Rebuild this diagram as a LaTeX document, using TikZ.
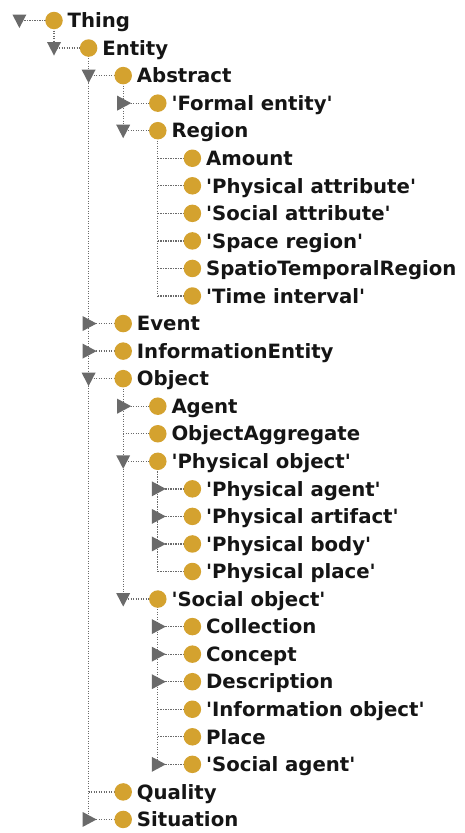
\documentclass[tikz,border=0pt]{standalone}
\usepackage{fontspec}
\setmainfont{DejaVu Sans}
\newcommand{\qq}[1]{\textquotesingle#1\textquotesingle}
\definecolor{gold}{HTML}{D4A22F}
\definecolor{trigray}{HTML}{6A6A6A}
\definecolor{dotgray}{HTML}{6A6A6A}
\definecolor{txt}{HTML}{151515}
\begin{document}
\begin{tikzpicture}[x=1pt,y=-1pt,
  dots/.style={draw=dotgray,line width=1.3pt,dash pattern=on 1.2pt off 1.3pt},
  ball/.style={circle,fill=gold,minimum size=17.5pt,inner sep=0pt},
  lbl/.style={anchor=base west,inner sep=0pt,text=txt,font=\fontsize{19.7}{19.7}\selectfont\bfseries},
  trifill/.style={fill=trigray}]
\useasboundingbox (0,0) rectangle (464,833);
\def\rows{0/0/d/Thing, 1/1/d/Entity, 2/2/d/Abstract, 3/3/r/{\qq{Formal entity}}, 4/3/d/Region,
 5/4/n/Amount, 6/4/n/{\qq{Physical attribute}}, 7/4/n/{\qq{Social attribute}}, 8/4/n/{\qq{Space region}},
 9/4/n/SpatioTemporalRegion, 10/4/n/{\qq{Time interval}}, 11/2/r/Event, 12/2/r/InformationEntity,
 13/2/d/Object, 14/3/r/Agent, 15/3/n/ObjectAggregate, 16/3/d/{\qq{Physical object}},
 17/4/r/{\qq{Physical agent}}, 18/4/r/{\qq{Physical artifact}}, 19/4/r/{\qq{Physical body}},
 20/4/n/{\qq{Physical place}}, 21/3/d/{\qq{Social object}}, 22/4/r/Collection, 23/4/r/Concept,
 24/4/r/Description, 25/4/n/{\qq{Information object}}, 26/4/n/Place, 27/4/r/{\qq{Social agent}},
 28/2/n/Quality, 29/2/r/Situation}
% coordinates
\foreach \i/\L/\tg/\t in \rows {
  \pgfmathsetmacro\cx{54+34.6*\L}
  \pgfmathsetmacro\cy{20.5+27.55*\i}
  \pgfmathsetmacro\px{\cx-34.6}
  \coordinate (k\i) at (\px,\cy);
  \coordinate (p\i) at (\cx,\cy);
}
% vertical connectors
\foreach \a/\b in {0/1, 1/29, 2/4, 4/10, 13/21, 16/20, 21/27}
  \draw[dots] (p\a) -- (k\b);
% horizontal connectors
\foreach \i/\L/\tg/\t in \rows
  \draw[dots] (k\i) -- (p\i);
% toggles, balls, labels
\foreach \i/\L/\tg/\t in \rows {
  \if d\tg
    \fill[trifill,shift={(k\i)}] (-7,-6) -- (7,-6) -- (0,7.5) -- cycle;
  \fi
  \if r\tg
    \fill[trifill,shift={(k\i)}] (-6,-7.5) -- (-6,7.5) -- (8,0) -- cycle;
  \fi
  \node[ball] (c\i) at (p\i) {};
  \node[lbl] (t\i) at ([xshift=13.5pt,yshift=-7.2pt]p\i) {\t};
}
\end{tikzpicture}
\end{document}
